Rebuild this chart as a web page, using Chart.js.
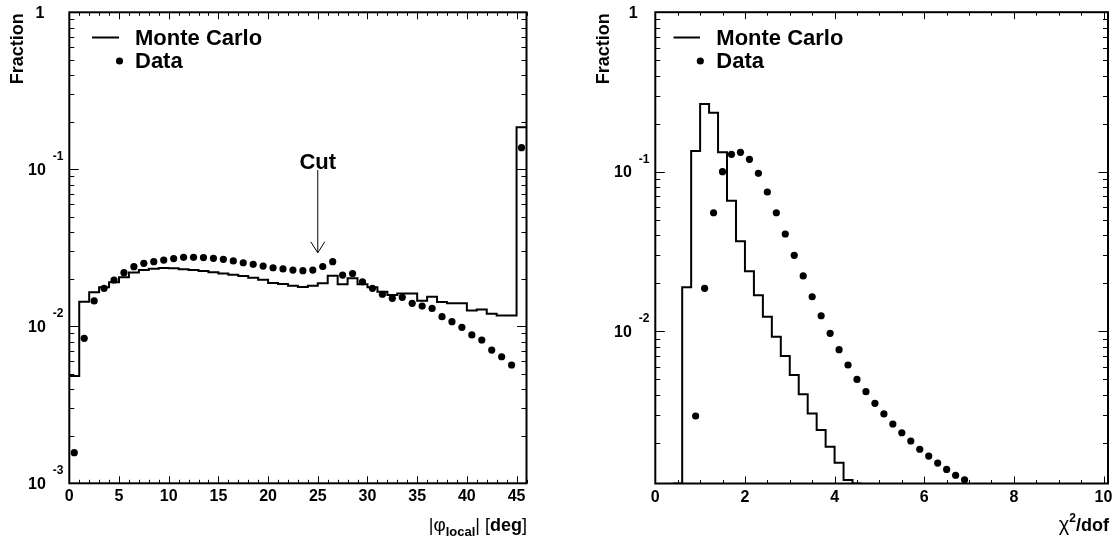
<!DOCTYPE html>
<html><head><meta charset="utf-8">
<script src="https://cdn.jsdelivr.net/npm/chart.js@4.4.0/dist/chart.umd.min.js"></script>
<style>
html,body{margin:0;padding:0;background:#fff;}
#wrap{position:relative;width:1117px;height:542px;overflow:hidden;background:#fff;}
canvas{position:absolute;top:0;}
#c1{left:0;}
#c2{left:560px;}
</style></head><body>
<div id="wrap">
<canvas id="c1" width="560" height="542"></canvas>
<canvas id="c2" width="557" height="542"></canvas>
</div>
<script>
// ---------- DATA: left panel, |phi_local| ----------
const phiBinEdges = [0,1,2,3,4,5,6,7,8,9,10,11,12,13,14,15,16,17,18,19,20,21,22,23,24,25,26,27,28,29,30,31,32,33,34,35,36,37,38,39,40,41,42,43,44,45,46];
const phiMC = [0.00482,0.01435,0.01645,0.0177,0.0191,0.0205,0.0220,0.0228,0.0233,0.0235,
               0.0234,0.0231,0.0228,0.0225,0.0221,0.0217,0.0213,0.0209,0.0204,0.0198,
               0.0189,0.0186,0.0181,0.0178,0.0181,0.0188,0.0210,0.0185,0.0202,0.0185,
               0.0177,0.0166,0.0158,0.0162,0.0162,0.01455,0.0154,0.0143,0.0140,0.0140,
               0.0126,0.0128,0.0120,0.0117,0.0117,0.185];
const phiDataX = [0.5,1.5,2.5,3.5,4.5,5.5,6.5,7.5,8.5,9.5,10.5,11.5,12.5,13.5,14.5,15.5,16.5,17.5,18.5,19.5,20.5,21.5,22.5,23.5,24.5,25.5,26.5,27.5,28.5,29.5,30.5,31.5,32.5,33.5,34.5,35.5,36.5,37.5,38.5,39.5,40.5,41.5,42.5,43.5,44.5,45.5];
const phiData = [0.001567,0.00838,0.0145,0.01746,0.01972,0.02195,0.02398,0.0252,0.0258,0.0264,
                 0.0270,0.0275,0.0275,0.0274,0.0271,0.0267,0.0261,0.0254,0.0248,0.0242,
                 0.0236,0.0232,0.0228,0.0226,0.0228,0.0240,0.0258,0.0212,0.0217,0.0192,
                 0.01745,0.0160,0.01508,0.0153,0.0140,0.01346,0.0130,0.01151,0.0107,0.00985,
                 0.00881,0.00818,0.00706,0.0064,0.00567,0.1373];
const phiXTicks = [0,5,10,15,20,25,30,35,40,45];
const phiYTicks = [1,0.1,0.01,0.001];
const phiYLabels = [['1',''],['10','-1'],['10','-2'],['10','-3']];

// ---------- DATA: right panel, chi2/dof ----------
const chiBinEdges = [0.4,0.6,0.8,1.0,1.2,1.4,1.6,1.8,2.0,2.2,2.4,2.6,2.8,3.0,3.2,3.4,3.6,3.8,4.0,4.2,4.4,4.6];
const chiMC = [null,0.01884,0.1348,0.2657,0.2344,0.1323,0.0658,0.0367,0.0238,0.0168,
               0.01233,0.00924,0.00699,0.00531,0.00403,0.00305,0.0024,0.00189,0.0015,0.001167,null];
const chiDataX = [0.9,1.1,1.3,1.5,1.7,1.9,2.1,2.3,2.5,2.7,2.9,3.1,3.3,3.5,3.7,3.9,4.1,4.3,4.5,4.7,4.9,5.1,5.3,5.5,5.7,5.9,6.1,6.3,6.5,6.7,6.9];
const chiData = [0.00294,0.01858,0.0553,0.100,0.1286,0.1323,0.1196,0.0977,0.0746,0.0553,
                 0.0407,0.0299,0.0222,0.01645,0.0125,0.0097,0.00766,0.00614,0.00499,0.00418,
                 0.00353,0.00303,0.00262,0.00231,0.00205,0.00182,0.00165,0.00149,0.00136,0.00125,0.00117];
const chiXTicks = [0,2,4,6,8,10];
const chiYTicks = [1,0.1,0.01];
const chiYLabels = [['1',''],['10','-1'],['10','-2']];

const legendLabels = ['Monte Carlo','Data'];

// ---------- helpers ----------
const FONT = "'Liberation Sans', Arial, Helvetica, sans-serif";
function histPoints(edges, vals, floor){
  return edges.map((e,i)=>{
    const v = vals[Math.min(i, vals.length-1)];
    return {x:e, y:(v===null? floor : v)};
  });
}
function scatterPoints(xs, ys){ return xs.map((x,i)=>({x:x, y:ys[i]})); }

function drawRich(ctx, segs, rightX, baseY){
  let w = 0;
  segs.forEach(s=>{ ctx.font = s.f; s.w = ctx.measureText(s.t).width; w += s.w; });
  let x = rightX - w;
  ctx.textAlign='left'; ctx.textBaseline='alphabetic';
  segs.forEach(s=>{ ctx.font = s.f; ctx.fillText(s.t, x, baseY + (s.dy||0)); x += s.w; });
}

function rootPlugin(cfg){
  return {
    id:'rootFrame',
    afterDraw(chart){
      const ctx = chart.ctx, a = chart.chartArea, xs = chart.scales.x, ys = chart.scales.y;
      ctx.save();
      ctx.strokeStyle='#000'; ctx.fillStyle='#000';
      // ticks
      ctx.lineWidth = 1;
      ctx.beginPath();
      const nMinor = Math.round((xs.max - xs.min)/cfg.xMinor);
      for(let i=0;i<=nMinor;i++){
        const v = xs.min + i*cfg.xMinor;
        const isMajor = cfg.xTicks.some(t=>Math.abs(t-v)<1e-6);
        const len = isMajor ? 7 : 3.5;
        const px = Math.round(xs.getPixelForValue(v))+0.5;
        ctx.moveTo(px, a.bottom); ctx.lineTo(px, a.bottom-len);
        ctx.moveTo(px, a.top); ctx.lineTo(px, a.top+len);
      }
      const k0 = Math.floor(Math.log10(ys.min)), k1 = 0;
      for(let k=k0;k<=k1;k++){
        for(let m=1;m<=9;m++){
          const v = m*Math.pow(10,k);
          if(v < ys.min*0.999 || v > ys.max*1.001) continue;
          const len = (m===1) ? 9.5 : 5;
          const py = Math.round(ys.getPixelForValue(v))+0.5;
          ctx.moveTo(a.left, py); ctx.lineTo(a.left+len, py);
          ctx.moveTo(a.right, py); ctx.lineTo(a.right-len, py);
        }
      }
      ctx.stroke();
      // frame
      ctx.lineWidth = 2;
      ctx.strokeRect(a.left, a.top, a.right-a.left, a.bottom-a.top);
      // y labels
      cfg.yTicks.forEach((v,i)=>{
        const py = ys.getPixelForValue(v);
        const [base, ex] = cfg.yLabels[i];
        if(!ex){
          ctx.font = 'bold 16px '+FONT; ctx.textAlign='center'; ctx.textBaseline='middle';
          ctx.fillText(base, a.left - cfg.oneOffset, py + 1);
        } else {
          ctx.font = 'bold 16px '+FONT; ctx.textAlign='right'; ctx.textBaseline='middle';
          ctx.fillText(base, a.left - 23.5, py + 1);
          ctx.font = 'bold 12px '+FONT; ctx.textAlign='left';
          ctx.fillText(ex, a.left - 16.5, py - 12.5);
        }
      });
      // y title
      ctx.save();
      ctx.translate(a.left - 51, a.top + 1);
      ctx.rotate(-Math.PI/2);
      ctx.font = 'bold 18px '+FONT; ctx.textAlign='right'; ctx.textBaseline='middle';
      ctx.fillText('Fraction', 0, 0);
      ctx.restore();
      // x title
      drawRich(ctx, cfg.xTitle, cfg.xTitleRight, 531);
      // legend
      const L = cfg.legend;
      ctx.lineWidth = 2;
      ctx.beginPath(); ctx.moveTo(a.left+L.l0, L.y1); ctx.lineTo(a.left+L.l1, L.y1); ctx.stroke();
      ctx.beginPath(); ctx.arc(a.left+L.dot, L.y2, 3.6, 0, Math.PI*2); ctx.fill();
      ctx.font = 'bold 22px '+FONT; ctx.textAlign='left'; ctx.textBaseline='middle';
      ctx.fillText(legendLabels[0], a.left+L.tx, L.y1+1);
      ctx.fillText(legendLabels[1], a.left+L.tx, L.y2+1);
      // annotation
      if(cfg.cut){
        const c = cfg.cut;
        const px = xs.getPixelForValue(c.x);
        ctx.font = 'bold 22px '+FONT; ctx.textAlign='center'; ctx.textBaseline='middle';
        ctx.fillText(c.text, px, ys.getPixelForValue(c.labelY));
        const y0 = ys.getPixelForValue(c.from), y1 = ys.getPixelForValue(c.to);
        ctx.lineWidth = 1;
        ctx.beginPath();
        ctx.moveTo(px, y0); ctx.lineTo(px, y1);
        ctx.moveTo(px-7, y1-11); ctx.lineTo(px, y1); ctx.lineTo(px+7, y1-11);
        ctx.stroke();
      }
      ctx.restore();
    }
  };
}

function makeChart(id, o){
  return new Chart(document.getElementById(id), {
    type:'scatter',
    data:{datasets:[
      {type:'line', label:legendLabels[0], data:o.mc, stepped:true, borderColor:'#000', borderWidth:2,
       pointRadius:0, fill:false, tension:0, order:2},
      {type:'scatter', label:legendLabels[1], data:o.pts, pointRadius:3.6, backgroundColor:'#000',
       borderWidth:0, order:1}
    ]},
    options:{
      responsive:false, animation:false, events:[],
      plugins:{legend:{display:false}, tooltip:{enabled:false}},
      layout:{padding:{left:0, right:o.padRight, top:o.padTop, bottom:0}},
      scales:{
        x:{type:'linear', min:0, max:o.xMax,
           grid:{display:false, drawTicks:false}, border:{display:false},
           ticks:{font:{family:FONT, size:16, weight:'bold'}, color:'#000', padding:4, maxRotation:0, autoSkip:false},
           afterBuildTicks:s=>{ s.ticks = o.xTicks.map(v=>({value:v})); },
           afterFit:s=>{ s.height = o.xAxisH; }},
        y:{type:'logarithmic', min:o.yMin, max:1,
           grid:{display:false, drawTicks:false}, border:{display:false},
           ticks:{display:false},
           afterFit:s=>{ s.width = o.yAxisW; }}
      }
    },
    plugins:[rootPlugin(o.plugin)]
  });
}

const phiYMin = 0.001;
makeChart('c1', {
  mc: histPoints(phiBinEdges, phiMC, phiYMin),
  pts: scatterPoints(phiDataX, phiData),
  xMax:46, yMin:phiYMin, xTicks:phiXTicks,
  padRight:560-526.5, padTop:12.3, xAxisH:542-483.3, yAxisW:69.3,
  plugin:{
    xMinor:1, xTicks:phiXTicks, yTicks:phiYTicks, yLabels:phiYLabels, oneOffset:29.4,
    xTitleRight:527,
    xTitle:[
      {t:'|', f:'18px '+FONT},
      {t:'\u03c6', f:'19px '+FONT},
      {t:'local', f:'bold 13px '+FONT, dy:5},
      {t:'| [', f:'18px '+FONT},
      {t:'deg', f:'bold 18px '+FONT},
      {t:']', f:'18px '+FONT}
    ],
    legend:{l0:22.7, l1:49.7, dot:50.2, tx:65.7, y1:37.5, y2:61},
    cut:{x:25, text:'Cut', labelY:0.11, from:0.099, to:0.0294}
  }
});

const chiYMin = 0.00111;
makeChart('c2', {
  mc: histPoints(chiBinEdges, chiMC, chiYMin),
  pts: scatterPoints(chiDataX, chiData),
  xMax:10.1, yMin:chiYMin, xTicks:chiXTicks,
  padRight:557-548, padTop:12.2, xAxisH:542-483.5, yAxisW:95.3,
  plugin:{
    xMinor:0.5, xTicks:chiXTicks, yTicks:chiYTicks, yLabels:chiYLabels, oneOffset:22,
    xTitleRight:549,
    xTitle:[
      {t:'\u03c7', f:'20px '+FONT},
      {t:'2', f:'bold 12px '+FONT, dy:-9},
      {t:'/dof', f:'bold 18px '+FONT}
    ],
    legend:{l0:18.2, l1:44.7, dot:45, tx:61, y1:37.5, y2:61}
  }
});
</script>
</body></html>
